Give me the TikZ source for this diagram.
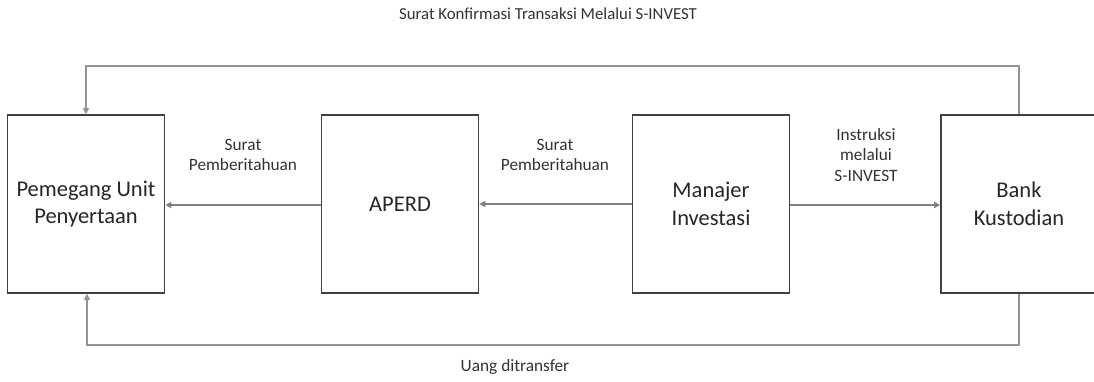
\documentclass[tikz,border=0pt]{standalone}
\usepackage{fontspec}
\setmainfont{Carlito}
\usetikzlibrary{arrows.meta}
\begin{document}
\begin{tikzpicture}[x=1pt,y=-1pt,
  box/.style={draw=black!75,line width=1.6pt,minimum width=157pt,minimum height=178pt,inner sep=0pt,align=center,font=\fontsize{22.5}{27.5}\selectfont,text=black!85},
  conn/.style={draw=black!50,line width=1.1pt,-{Triangle[length=6pt,width=6pt]}},
  loop/.style={draw=black!42,line width=1.3pt,-{Triangle[length=6pt,width=6pt]}},
  lbl/.style={align=center,font=\fontsize{17.3}{20.5}\selectfont,text=black!80}]
\useasboundingbox (0,0) rectangle (1094,381);
\fill[white] (0,0) rectangle (1094,381);
\node[box] (puk) at (86,204) {Pemegang Unit\\Penyertaan};
\node[box] (aperd) at (400,204) {APERD};
\node[box] (mi) at (711,204) {Manajer\\Investasi};
\node[box,minimum width=170pt] (bk) at (1026,204) {};
\node[box,draw=none,minimum width=157pt] (bkt) at (1019,204) {Bank\\Kustodian};
\draw[conn] (aperd.west |- 0,205) -- (puk.east |- 0,205);
\draw[conn] (mi.west |- 0,204) -- (aperd.east |- 0,204);
\draw[conn] (mi.east |- 0,205) -- (bk.west |- 0,205);
\coordinate (t1) at (1019,66);
\coordinate (t2) at (86,66);
\coordinate (b1) at (1019,345);
\coordinate (b2) at (87,345);
\draw[loop] (bkt.north -| t1) -- (t1) -- (t2) -- (puk.north);
\draw[loop] (bkt.south -| b1) -- (b1) -- (b2) -- (puk.south -| b2);
\node[lbl] (l1) at (243,155) {Surat\\Pemberitahuan};
\node[lbl] (l2) at (555,155) {Surat\\Pemberitahuan};
\node[lbl] (l3) at (866,155) {Instruksi\\melalui\\S-INVEST};
\node[lbl] (l4) at (515,367) {Uang ditransfer};
\node[lbl,font=\fontsize{16.8}{20}\selectfont] (title) at (548,14) {Surat Konfirmasi Transaksi Melalui S-INVEST};
\end{tikzpicture}
\end{document}
